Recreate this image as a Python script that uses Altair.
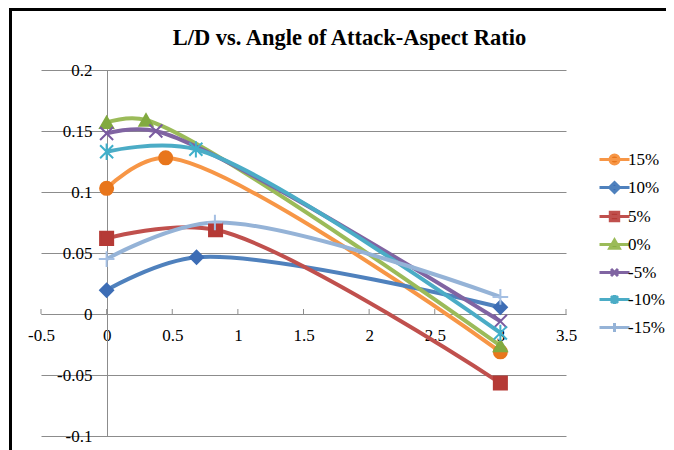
import altair as alt
import pandas as pd

# ---- data ----
series = ["15%", "10%", "5%", "0%", "-5%", "-10%", "-15%"]
x_15 = [0, 0.45, 3]
y_15 = [0.103, 0.128, -0.031]
x_10 = [0, 0.685, 3]
y_10 = [0.0195, 0.0465, 0.0055]
x_5 = [0, 0.83, 3]
y_5 = [0.062, 0.069, -0.0566]
x_0 = [0, 0.30, 3]
y_0 = [0.157, 0.159, -0.026]
x_m5 = [0, 0.375, 3]
y_m5 = [0.148, 0.150, -0.006]
x_m10 = [0, 0.68, 3]
y_m10 = [0.133, 0.135, -0.0155]
x_m15 = [0, 0.825, 3]
y_m15 = [0.045, 0.075, 0.014]

x_ticks = [-0.5, 0, 0.5, 1, 1.5, 2, 2.5, 3, 3.5]
y_ticks = [-0.1, -0.05, 0, 0.05, 0.1, 0.15, 0.2]
title_text = "L/D vs. Angle of Attack-Aspect Ratio"

xs = [x_15, x_10, x_5, x_0, x_m5, x_m10, x_m15]
ys = [y_15, y_10, y_5, y_0, y_m5, y_m10, y_m15]
rows = []
for name, xv, yv in zip(series, xs, ys):
    for a, b in zip(xv, yv):
        rows.append({"series": name, "x": a, "y": b})
df = pd.DataFrame(rows)
tick_df = pd.DataFrame({"x": x_ticks})

# ---- styles ----
line_colors = ["#F79646", "#4F81BD", "#C0504D", "#9BBB59", "#8064A2", "#4BACC6", "#95B3D7"]
marker_colors = ["#E8761C", "#3D6DB5", "#B53A36", "#82AA40", "#7A5BA0", "#3FB0CB", "#A4BFE3"]
plot_shapes = [
    "circle", "diamond", "square", "triangle-up",
    "M-1,-1L1,1M1,-1L-1,1",
    "M-1,-1L1,1M1,-1L-1,1M0,-1.25L0,1.25",
    "M-1.2,0L1.2,0M0,-1.2L0,1.2",
]
stub = "M-1.5,0L1.5,0"
legend_shapes = [
    stub + "M-0.45,0A0.45,0.45,0,1,1,0.45,0A0.45,0.45,0,1,1,-0.45,0Z",
    stub + "M0,-0.5L0.5,0L0,0.5L-0.5,0Z",
    stub + "M-0.42,-0.42L0.42,-0.42L0.42,0.42L-0.42,0.42Z",
    stub + "M0,-0.45L0.48,0.38L-0.48,0.38Z",
    stub + "M-0.35,-0.35L0.35,0.35M0.35,-0.35L-0.35,0.35",
    stub + "M-0.35,-0.35L0.35,0.35M0.35,-0.35L-0.35,0.35M0,-0.45L0,0.45",
    stub + "M0,-0.45L0,0.45",
]
grey = "#8c8c8c"
font = "Liberation Serif"
minus_fix = "replace(format(datum.value, '~g'), '\u2212', '-')"

x_scale = alt.Scale(domain=[-0.5, 3.5], nice=False, zero=False)
y_scale = alt.Scale(domain=[-0.1, 0.2], nice=False, zero=False)

lines = alt.Chart(df).mark_line(interpolate="catmull-rom", strokeWidth=4).encode(
    x=alt.X("x:Q", scale=x_scale, axis=alt.Axis(
        values=x_ticks, offset=-122, domain=True, domainColor=grey, domainWidth=1,
        ticks=False, grid=False, labelPadding=13, labelFont=font, labelFontSize=17,
        labelColor="black", labelExpr=minus_fix, labelFlush=False, title=None)),
    y=alt.Y("y:Q", scale=y_scale, axis=alt.Axis(
        values=y_ticks, offset=-66, domain=True, domainColor=grey, domainWidth=1,
        ticks=False, grid=True, gridColor=grey, gridWidth=1, labelPadding=15,
        labelFont=font, labelFontSize=17, labelColor="black", labelExpr=minus_fix,
        labelFlush=False, title=None)),
    color=alt.Color("series:N", scale=alt.Scale(domain=series, range=line_colors), legend=None),
)

points = alt.Chart(df).mark_point(filled=True, size=170, strokeWidth=2, opacity=1).encode(
    x="x:Q",
    y="y:Q",
    fill=alt.Fill("series:N", scale=alt.Scale(domain=series, range=marker_colors), legend=None),
    stroke=alt.Stroke("series:N", scale=alt.Scale(domain=series, range=marker_colors), legend=None),
    shape=alt.Shape("series:N", scale=alt.Scale(domain=series, range=plot_shapes), legend=None),
)

leg = alt.Legend(title=None)
legend_layer = alt.Chart(df).transform_filter("false").mark_point(
    filled=True, size=400, strokeWidth=3, opacity=1).encode(
    fill=alt.Fill("series:N", scale=alt.Scale(domain=series, range=marker_colors), legend=leg),
    stroke=alt.Stroke("series:N", scale=alt.Scale(domain=series, range=line_colors), legend=leg),
    shape=alt.Shape("series:N", scale=alt.Scale(domain=series, range=legend_shapes), legend=leg),
)

ticks = alt.Chart(tick_df).mark_tick(orient="vertical", size=5, thickness=1, yOffset=-2.5,
                                     color=grey, opacity=1).encode(
    x="x:Q", y=alt.datum(0))

frame_left = alt.Chart(alt.Data(values=[{"k": "left"}])).mark_rect(
    fill="black", opacity=1).encode(
    x=alt.value(-32), x2=alt.value(-29), y=alt.value(-62), y2=alt.value(380))
frame_top = alt.Chart(alt.Data(values=[{"k": "top"}])).mark_rect(
    fill="black", opacity=1).encode(
    x=alt.value(-32), x2=alt.value(700), y=alt.value(-62), y2=alt.value(-59))

chart = alt.layer(frame_left, frame_top, ticks, lines, points, legend_layer).resolve_scale(
    fill="independent", stroke="independent", shape="independent"
).properties(
    width=525, height=366,
    autosize=alt.AutoSizeParams(type="none"),
    padding={"left": 33, "top": 62, "right": 100, "bottom": 14},
    title=alt.TitleParams(title_text, font=font, fontSize=22.5, fontWeight="bold",
                          color="black", anchor="middle", frame="group", dx=46,
                          offset=-59, baseline="alphabetic"),
).configure_view(stroke=None).configure_legend(
    orient="none", legendX=562, legendY=78, padding=0, labelFont=font,
    labelFontSize=17, labelColor="black", symbolSize=400, symbolStrokeWidth=3,
    labelOffset=2, rowPadding=6,
)

chart.save("out.html", embed_options={"renderer": "svg", "actions": False})
